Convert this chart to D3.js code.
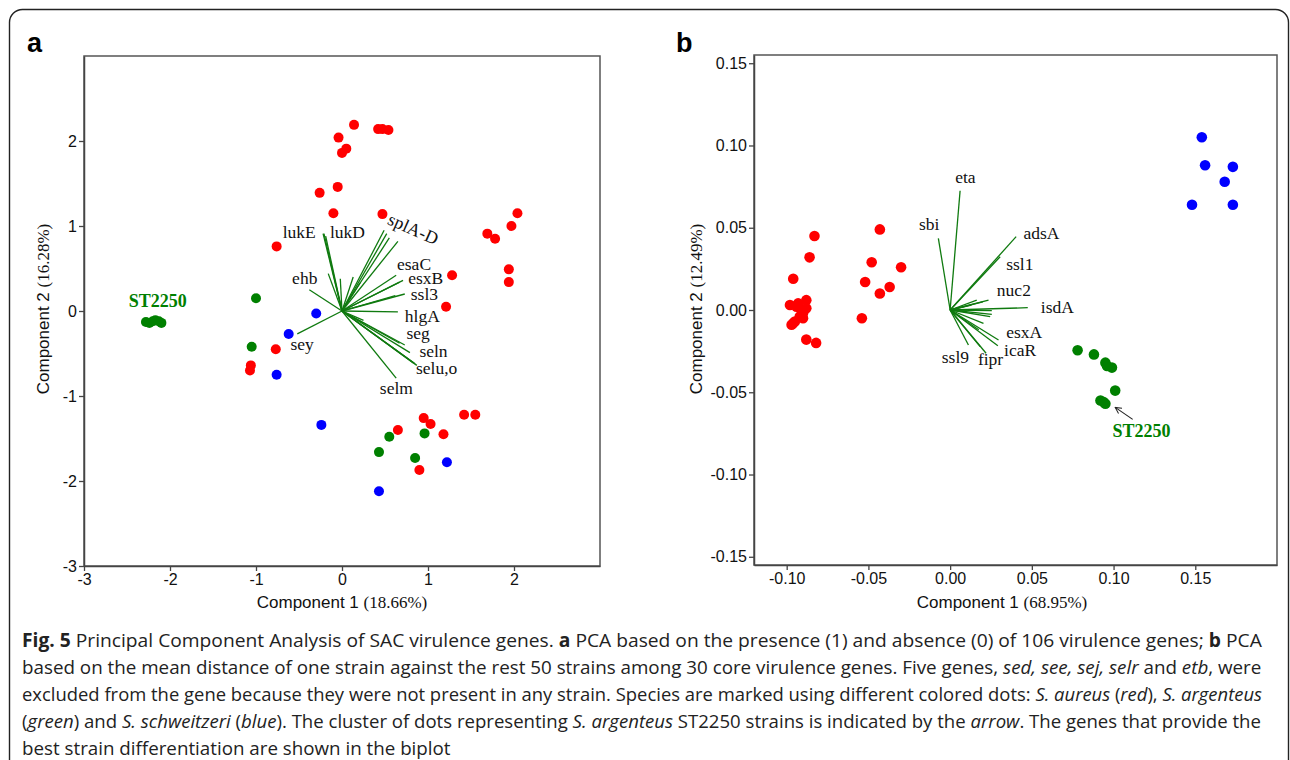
<!DOCTYPE html>
<html>
<head>
<meta charset="utf-8">
<script src="https://cdn.jsdelivr.net/npm/d3@7"></script>
<style>
body{margin:0;background:#fff;}
svg{display:block;}
</style>
</head>
<body>
<svg id="fig" width="1290" height="760"></svg>
<script>
// ---- panel a : presence / absence of 106 genes
var ticksA = [-3, -2, -1, 0, 1, 2];
var redA = [[0.14,2.19],[0.42,2.14],[0.47,2.14],[0.54,2.13],[-0.04,2.04],[0.05,1.91],[0.0,1.86],
  [-0.26,1.39],[-0.05,1.46],[-0.10,1.15],[0.47,1.14],[-0.76,0.76],[1.69,0.91],[1.78,0.85],
  [2.04,1.15],[1.97,1.00],[1.94,0.49],[1.94,0.34],[1.28,0.42],[1.21,0.05],
  [-0.77,-0.45],[-1.06,-0.64],[-1.07,-0.70],[0.95,-1.26],[1.03,-1.33],[1.42,-1.22],[1.55,-1.22],
  [0.65,-1.40],[1.18,-1.45],[0.90,-1.87]];
var greenA = [[-1.00,0.15],[-1.05,-0.42],[0.55,-1.48],[0.96,-1.44],[0.43,-1.66],[0.85,-1.73]];
var st2250A = [[-2.28,-0.13],[-2.24,-0.14],[-2.20,-0.12],[-2.17,-0.11],[-2.13,-0.12],[-2.10,-0.14]];
var blueA = [[-0.30,-0.03],[-0.62,-0.27],[-0.76,-0.75],[-0.24,-1.34],[1.22,-1.78],[0.43,-2.12]];
var vecA = [[-0.22,0.91],[-0.21,0.91],[-0.19,0.88],[-0.16,0.44],[-0.02,0.38],[0.13,0.40],[0.21,0.33],
  [-0.38,0.25],[-0.52,-0.27],[0.49,0.95],[0.52,0.91],[0.55,0.86],[0.65,0.82],[0.63,0.42],
  [0.71,0.36],[0.67,0.34],[0.73,0.20],[0.62,0.18],[0.65,-0.01],[0.25,-0.11],[0.73,-0.40],
  [0.67,-0.38],[0.79,-0.49],[0.85,-0.62],[0.87,-0.64],[0.83,-0.61],[0.63,-0.79]];
var genesA = [["lukE",-0.69,0.86],["lukD",-0.14,0.86],["esaC",0.64,0.48],["esxB",0.77,0.32],
  ["ssl3",0.80,0.13],["hlgA",0.73,-0.13],["seg",0.75,-0.33],["seln",0.90,-0.54],
  ["selu,o",0.86,-0.74],["selm",0.44,-0.98],["sey",-0.60,-0.46],["ehb",-0.58,0.32]];
var splA = ["splA-D", 0.80, 0.90];
var stLabelA = ["ST2250", -2.48, 0.05];

// ---- panel b : mean distance, 30 core genes
var ticksBx = [-0.10, -0.05, 0.00, 0.05, 0.10, 0.15];
var ticksBy = [-0.15, -0.10, -0.05, 0.00, 0.05, 0.10, 0.15];
var redB = [[-0.083,0.045],[-0.086,0.032],[-0.096,0.019],[-0.043,0.049],[-0.048,0.029],[-0.030,0.026],
  [-0.052,0.017],[-0.037,0.014],[-0.043,0.010],[-0.054,-0.005],[-0.098,0.003],[-0.088,0.006],
  [-0.094,0.002],[-0.091,0.000],[-0.090,-0.002],[-0.088,0.001],[-0.092,-0.004],[-0.095,-0.007],
  [-0.097,-0.009],[-0.096,-0.008],[-0.093,0.004],[-0.090,-0.005],[-0.088,-0.018],[-0.082,-0.020]];
var greenB = [[0.078,-0.0245],[0.088,-0.027],[0.095,-0.032],[0.096,-0.034],[0.099,-0.035],
  [0.101,-0.049],[0.092,-0.055],[0.094,-0.056],[0.095,-0.057]];
var blueB = [[0.154,0.105],[0.156,0.088],[0.173,0.087],[0.168,0.078],[0.148,0.064],[0.173,0.064]];
var vecB = [[0.0061,0.0725],[-0.0072,0.0436],[0.0404,0.0446],[0.0306,0.0324],[0.0235,0.006],
  [0.020,0.005],[0.0163,0.006],[0.013,0.003],[0.0475,0.0014],[0.0255,-0.0004],[0.0255,-0.0026],
  [0.0245,-0.004],[0.0296,-0.0182],[0.0292,-0.0217],[0.0204,-0.0081],[0.0175,-0.012],
  [0.022,-0.0263],[0.0112,-0.0213],[0.0184,-0.0223]];
var genesB = [["eta",0.0031,0.0770],["sbi",-0.0190,0.0486],["adsA",0.0449,0.0432],["ssl1",0.0343,0.0243],
  ["nuc2",0.0286,0.0087],["isdA",0.0555,-0.0016],["esxA",0.0343,-0.0170],["icaR",0.0330,-0.0280],
  ["fipr",0.0170,-0.0334],["ssl9",-0.0051,-0.0324]];
var stLabelB = ["ST2250", 0.0993, -0.0774];
var arrowB = [[0.1117,-0.0665],[0.1010,-0.0592]];

var RED = "#ff0000", GREEN = "#008000", BLUE = "#0000ff", VEC = "#0f7a0f";
var SANS = "'Liberation Sans', Arial, sans-serif";
var SERIF = "'Liberation Serif', 'Times New Roman', serif";

var svg = d3.select("#fig");

// outer frame
svg.append("rect")
  .attr("x", 9.5).attr("y", 9.5).attr("width", 1279).attr("height", 800)
  .attr("rx", 13).attr("fill", "none").attr("stroke", "#222").attr("stroke-width", 1.4);

function drawPanel(o){
  var x = d3.scaleLinear().domain(o.xd).range([o.left, o.right]);
  var y = d3.scaleLinear().domain(o.yd).range([o.bottom, o.top]);
  var g = svg.append("g");

  g.append("rect")
    .attr("x", o.left).attr("y", o.top)
    .attr("width", o.right - o.left).attr("height", o.bottom - o.top)
    .attr("fill", "none").attr("stroke", "#555").attr("stroke-width", 1.5);

  var ax = g.append("g")
    .attr("transform", "translate(0," + o.bottom + ")")
    .call(d3.axisBottom(x).tickValues(o.xt).tickFormat(o.fmt).tickSize(5).tickSizeOuter(0).tickPadding(3));
  var ay = g.append("g")
    .attr("transform", "translate(" + o.left + ",0)")
    .call(d3.axisLeft(y).tickValues(o.yt).tickFormat(o.fmt).tickSize(5).tickSizeOuter(0).tickPadding(2));
  [ax, ay].forEach(function(a){
    a.select(".domain").attr("stroke", "#444").attr("stroke-width", 1.5);
    a.selectAll(".tick line").attr("stroke", "#444").attr("stroke-width", 1.3);
    a.selectAll(".tick text").attr("font-family", SANS).attr("font-size", 16).attr("fill", "#111");
  });

  // axis titles
  var tx = g.append("text").attr("x", o.xTitleX).attr("y", 608)
    .attr("text-anchor", "middle").attr("fill", "#111");
  tx.append("tspan").attr("font-family", SANS).attr("font-size", 17).text("Component 1 ");
  tx.append("tspan").attr("font-family", SERIF).attr("font-size", 17).text(o.xPct);

  var ty = g.append("text")
    .attr("transform", "translate(" + o.yTitleX + ",309) rotate(-90)")
    .attr("text-anchor", "middle").attr("fill", "#111");
  ty.append("tspan").attr("font-family", SANS).attr("font-size", 17).text("Component 2 ");
  ty.append("tspan").attr("font-family", SERIF).attr("font-size", 17).text(o.yPct);

  // biplot vectors
  g.append("g").selectAll("line")
    .data(o.vec).enter().append("line")
    .attr("x1", x(0)).attr("y1", y(0))
    .attr("x2", function(d){ return x(d[0]); })
    .attr("y2", function(d){ return y(d[1]); })
    .attr("stroke", VEC).attr("stroke-width", 1.3);

  // dots
  o.dots.forEach(function(s){
    g.append("g").selectAll("circle")
      .data(s.data).enter().append("circle")
      .attr("cx", function(d){ return x(d[0]); })
      .attr("cy", function(d){ return y(d[1]); })
      .attr("r", o.r).attr("fill", s.color);
  });

  // gene labels
  g.append("g").selectAll("text")
    .data(o.genes).enter().append("text")
    .attr("x", function(d){ return x(d[1]); })
    .attr("y", function(d){ return y(d[2]); })
    .attr("font-family", SERIF).attr("font-size", 17.5).attr("fill", "#111")
    .text(function(d){ return d[0]; });

  g.append("text")
    .attr("x", x(o.st[1])).attr("y", y(o.st[2]))
    .attr("font-family", SERIF).attr("font-size", 18).attr("font-weight", "bold")
    .attr("fill", GREEN).text(o.st[0]);

  // panel letter
  g.append("text").attr("x", o.letterX).attr("y", 52)
    .attr("font-family", SANS).attr("font-size", 27).attr("font-weight", "bold")
    .attr("fill", "#000").text(o.letter);

  return {g: g, x: x, y: y};
}

var pa = drawPanel({
  left: 84, right: 600, top: 56, bottom: 566,
  xd: [-3, 3], yd: [-3, 3], xt: ticksA, yt: ticksA,
  fmt: function(d){ return String(d); },
  xPct: "(18.66%)", yPct: "(16.28%)", xTitleX: 342, yTitleX: 49,
  vec: vecA, genes: genesA, st: stLabelA, r: 5,
  dots: [{data: redA, color: RED}, {data: greenA, color: GREEN}, {data: st2250A, color: GREEN}, {data: blueA, color: BLUE}],
  letter: "a", letterX: 27
});

// rotated splA-D label
pa.g.append("text")
  .attr("transform", "translate(" + pa.x(splA[1]) + "," + pa.y(splA[2]) + ") rotate(24)")
  .attr("text-anchor", "middle")
  .attr("font-family", SERIF).attr("font-size", 18).attr("fill", "#111")
  .text(splA[0]);

var pb = drawPanel({
  left: 754, right: 1277, top: 55, bottom: 565,
  xd: [-0.12, 0.20], yd: [-0.155, 0.155], xt: ticksBx, yt: ticksBy,
  fmt: function(d){ return d.toFixed(2); },
  xPct: "(68.95%)", yPct: "(12.49%)", xTitleX: 1002, yTitleX: 702,
  vec: vecB, genes: genesB, st: stLabelB, r: 5.3,
  dots: [{data: redB, color: RED}, {data: greenB, color: GREEN}, {data: blueB, color: BLUE}],
  letter: "b", letterX: 676
});

// arrow to ST2250 cluster
svg.append("defs").append("marker")
  .attr("id", "ah").attr("viewBox", "0 0 10 10").attr("refX", 9).attr("refY", 5)
  .attr("markerWidth", 7).attr("markerHeight", 7).attr("orient", "auto")
  .append("path").attr("d", "M1,1 L9,5 L1,9").attr("fill", "none").attr("stroke", "#222").attr("stroke-width", 1.3);
pb.g.append("line")
  .attr("x1", pb.x(arrowB[0][0])).attr("y1", pb.y(arrowB[0][1]))
  .attr("x2", pb.x(arrowB[1][0])).attr("y2", pb.y(arrowB[1][1]))
  .attr("stroke", "#222").attr("stroke-width", 1.1).attr("marker-end", "url(#ah)");

// ---- caption
var caption = [
  [["b","Fig. 5"],["n"," Principal Component Analysis of SAC virulence genes. "],["b","a"],["n"," PCA based on the presence (1) and absence (0) of 106 virulence genes; "],["b","b"],["n"," PCA"]],
  [["n","based on the mean distance of one strain against the rest 50 strains among 30 core virulence genes. Five genes, "],["i","sed, see, sej, selr"],["n"," and "],["i","etb"],["n",", were"]],
  [["n","excluded from the gene because they were not present in any strain. Species are marked using different colored dots: "],["i","S. aureus"],["n"," ("],["i","red"],["n","), "],["i","S. argenteus"]],
  [["n","("],["i","green"],["n",") and "],["i","S. schweitzeri"],["n"," ("],["i","blue"],["n","). The cluster of dots representing "],["i","S. argenteus"],["n"," ST2250 strains is indicated by the "],["i","arrow"],["n",". The genes that provide the"]],
  [["n","best strain differentiation are shown in the biplot"]]
];
var capWidths = [1240, 1240, 1241, 1240];
var capY = [647, 674, 701, 728, 754.5];

var scales = [];
caption.forEach(function(line, i){
  var t = svg.append("text")
    .attr("font-family", "'Open Sans', 'Noto Sans', sans-serif")
    .attr("font-size", 19).attr("fill", "#222");
  line.forEach(function(p){
    var s = t.append("tspan").text(p[1]);
    if (p[0] == "b") s.attr("font-weight", "bold");
    if (p[0] == "i") s.attr("font-style", "italic");
  });
  var w = t.node().getComputedTextLength();
  var k;
  if (i < capWidths.length) { k = capWidths[i] / w; scales.push(k); }
  else { k = d3.mean(scales); }
  t.attr("transform", "translate(22," + capY[i] + ") scale(" + k + ",1)");
});
</script>
</body>
</html>
